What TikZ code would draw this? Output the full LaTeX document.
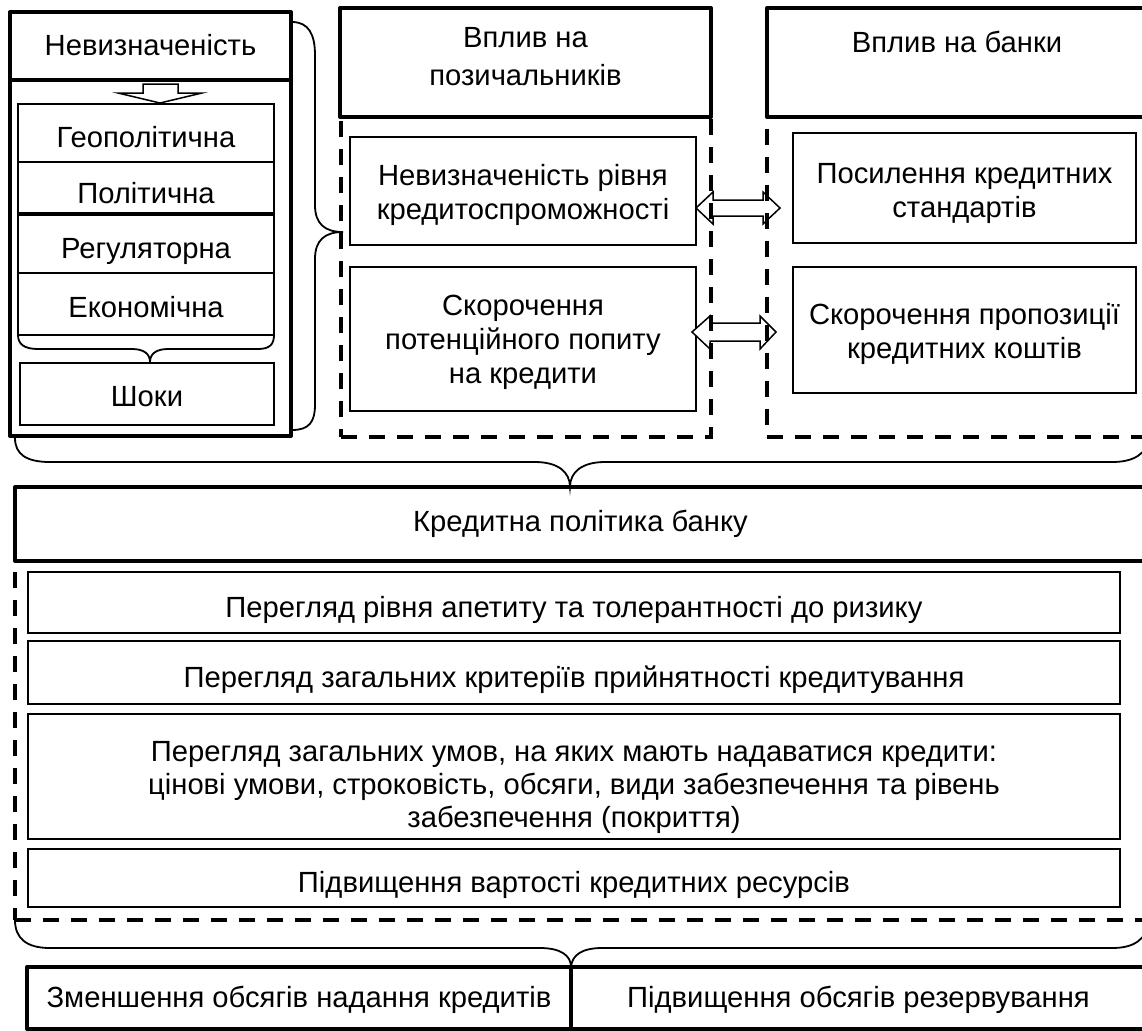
\documentclass[tikz,border=0pt]{standalone}
\usepackage{fontspec}
\setmainfont{Liberation Sans}
% struts that fix the vertical placement of multi-line texts
\newcommand\tH[1]{\rule{0pt}{\dimexpr 14.84pt+#1\relax}}
\newcommand\tD{\rule[-4.38pt]{0pt}{0pt}}
\newcommand\tHd[1]{\rule{0pt}{\dimexpr 17.46pt+#1\relax}}
\newcommand\tDd{\rule[-7pt]{0pt}{0pt}}
\begin{document}
\begin{tikzpicture}[x=0.5pt,y=-0.5pt,
  every node/.style={inner sep=0pt, outer sep=0pt, align=center,
    font=\fontsize{14.6pt}{17pt}\selectfont},
  % tx: shift a one-line text down by #1 pixels (given as pt)
  tx/.style={execute at begin node={\tH{#1}}, execute at end node={\tD}},
  thinbox/.style={draw, line width=0.75pt},
  thickbox/.style={draw, line width=2pt, line join=round},
  dashbox/.style={draw, line width=2pt, dash pattern=on 8pt off 6pt},
  brace/.style={draw, line width=0.9pt},
  blockarrow/.style={draw, line width=0.75pt, fill=white, line join=miter}]
\useasboundingbox (0,0) rectangle (1142,1030);
\clip (0,0) rectangle (1142,1030);

% ---- left column: inner items
\node[thinbox, tx=4pt, minimum width=128pt, minimum height=29pt] (geo) at (146,133) {Геополітична};
\node[thinbox, tx=5.5pt, minimum width=128pt, minimum height=25.5pt] (pol) at (146,187.5) {Політична};
\node[thinbox, tx=4pt, minimum width=128pt, minimum height=29pt] (reg) at (146,244) {Регуляторна};
\node[thinbox, tx=3pt, minimum width=128pt, minimum height=31pt] (eko) at (146,304) {Економічна};
\node[thinbox, tx=2pt, minimum width=127pt, minimum height=31pt] (shoky) at (147,394) {Шоки};

% inner brace (types -> shocks)
\coordinate (ib) at (150,362);
\draw[brace] (eko.south west) .. controls (18,344) and (24,349) .. (38,349)
  -- (132,349) .. controls (144,349) and (150,354) .. (ib)
  .. controls (150,354) and (156,349) .. (168,349)
  -- (258,349) .. controls (270,349) and (274,344) .. (eko.south east);

% ---- middle and right column: inner items
\node[thinbox, minimum width=173pt, minimum height=54pt] (nevr) at (523,191) {\tH{1.5pt}Невизначеність рівня\\кредитоспроможності\tD};
\node[thinbox, minimum width=173pt, minimum height=72pt] (skorp) at (523,339) {\tH{0pt}Скорочення\\потенційного попиту\\на кредити\tD};
\node[thinbox, minimum width=171.5pt, minimum height=55pt] (posyl) at (964.5,188) {\tH{2.5pt}Посилення кредитних\\стандартів\tD};
\node[thinbox, minimum width=171.5pt, minimum height=63pt] (skorpr) at (964.5,330) {\tH{1.5pt}Скорочення пропозиції\\кредитних коштів\tD};

% ---- double arrows between columns
\draw[blockarrow] (696,208) -- (713,192) -- (713,200) -- (763,200) -- (763,192)
  -- (780,208) -- (763,224) -- (763,216) -- (713,216) -- (713,224) -- cycle;
\draw[blockarrow] (692,332) -- (710,316) -- (710,323) -- (760,323) -- (760,316)
  -- (776,332) -- (760,349) -- (760,341) -- (710,341) -- (710,349) -- cycle;

% ---- credit policy items
\node[thinbox, tx=4.5pt, minimum width=546pt, minimum height=30.5pt] (r1) at (574,602.5) {Перегляд рівня апетиту та толерантності до ризику};
\node[thinbox, tx=4.5pt, minimum width=546pt, minimum height=31.5pt] (r2) at (574,672.5) {Перегляд загальних критеріїв прийнятності кредитування};
\node[thinbox, minimum width=546pt, minimum height=62.5pt,
  font=\fontsize{14.6pt}{16.5pt}\selectfont] (r3) at (574,776.5) {\tH{7.5pt}Перегляд загальних умов, на яких мають надаватися кредити:\\цінові умови, строковість, обсяги, види забезпечення та рівень\\забезпечення (покриття)\tD};
\node[thinbox, tx=4.5pt, minimum width=546pt, minimum height=29pt] (r4) at (574,878) {Підвищення вартості кредитних ресурсів};

% ---- dashed containers
\node[dashbox, minimum width=185pt, minimum height=160pt] (dashp) at (526,277) {};
\node[dashbox, minimum width=190pt, minimum height=160pt] (dashb) at (957,277) {};
\node[dashbox, minimum width=565.5pt, minimum height=179.5pt] (dashk) at (580.5,740.5) {};

% ---- thick headers
\node[thickbox, minimum width=140.5pt, minimum height=178pt] (nevb) at (150.5,258) {};
\node[thickbox, tx=-1pt, minimum width=140.5pt, minimum height=34pt] (nevh) at (150.5,46) {Невизначеність};
\node[thickbox, minimum width=185.5pt, minimum height=54.5pt,
  font=\fontsize{14.6pt}{19pt}\selectfont] (vplp) at (525.5,62.5) {\tHd{-6.5pt}Вплив на\\позичальників\tDd};
\node[thickbox, minimum width=190pt, minimum height=54.5pt,
  font=\fontsize{14.6pt}{19pt}\selectfont] (vplb) at (957,62.5) {\tHd{-1.5pt}Вплив на банки\\\tDd};
\node[thickbox, tx=-3pt, minimum width=565.5pt, minimum height=37pt] (kred) at (580.5,524) {Кредитна політика банку};
\node[thickbox, tx=-1pt, minimum width=272pt, minimum height=31pt] (b1) at (299,998) {Зменшення обсягів надання кредитів};
\node[thickbox, tx=-1pt, minimum width=287.5pt, minimum height=31pt] (b2) at (858.5,998) {Підвищення обсягів резервування};

% down block arrow from header to list
\draw[blockarrow] (143,84) -- (178,84) -- (178,93) -- (202,93) -- (160,103)
  -- (118,93) -- (143,93) -- cycle;

% brace: uncertainty -> impacts
\coordinate (lb) at (343,232);
\draw[brace] (292,22) .. controls (309,22) and (315,35) .. (315,55)
  -- (315,205) .. controls (315,224) and (325,232) .. (lb)
  .. controls (325,232) and (315,240) .. (315,259)
  -- (315,405) .. controls (315,422) and (309,430) .. (292,430);

% top big brace
\coordinate (tt) at (570,487);
\draw[brace] (15,438) .. controls (15,454) and (26,462) .. (50,462)
  -- (535,462) .. controls (558,462) and (570,472) .. (tt)
  .. controls (570,472) and (582,462) .. (605,462)
  -- (1112,462) .. controls (1134,462) and (1146,454) .. (1150,438);

% bottom brace
\coordinate (bt) at (571,967);
\draw[brace] (dashk.south west) .. controls (15,938) and (26,948) .. (50,948)
  -- (540,948) .. controls (560,948) and (571,955) .. (bt)
  .. controls (572,955) and (582,948) .. (602,948)
  -- (1112,948) .. controls (1134,948) and (1146,940) .. (1150,920);
\end{tikzpicture}
\end{document}
